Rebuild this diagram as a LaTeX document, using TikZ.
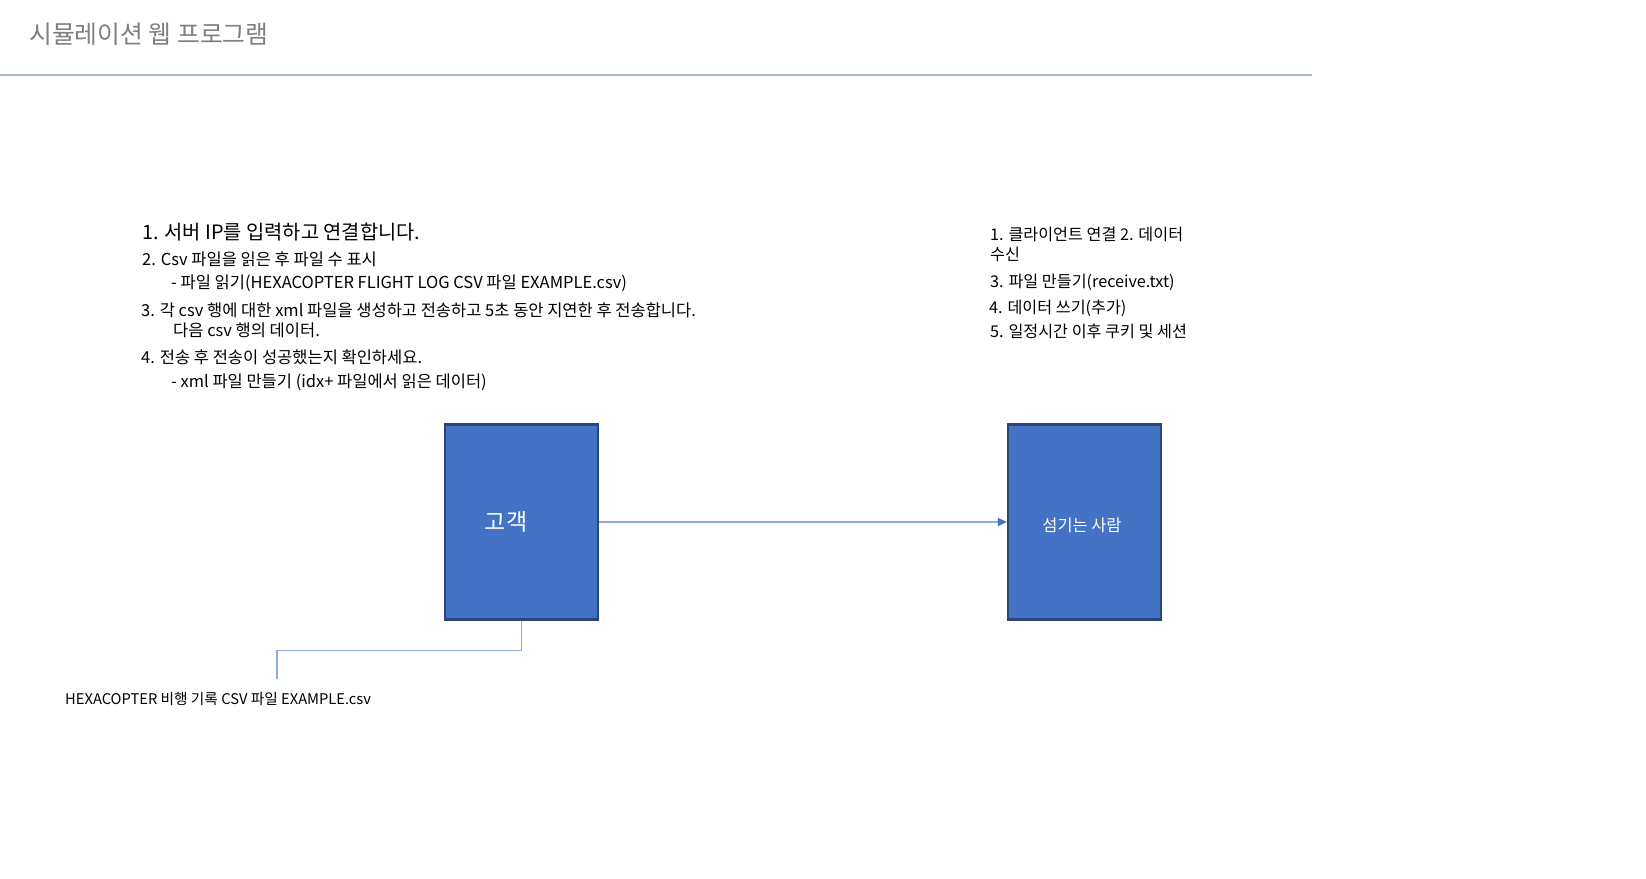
\documentclass[tikz,border=0pt]{standalone}
\usepackage{fontspec}
\setmainfont{Noto Sans CJK KR}
\usetikzlibrary{arrows.meta}
\definecolor{boxblue}{HTML}{4472C4}
\definecolor{boxedge}{HTML}{2A4577}
\definecolor{linkblue}{HTML}{8FAADC}
\definecolor{rulegray}{HTML}{A9B8C8}
\definecolor{titlegray}{HTML}{7F7F7F}
\tikzset{every node/.style={inner sep=0pt}}
\tikzset{t/.style={anchor=west,font=\fontsize{16.5}{18}\selectfont}}
\tikzset{b/.style={rectangle,draw=boxedge,line width=2.2pt,fill=boxblue,minimum width=153pt,minimum height=195pt}}
\tikzset{w/.style={text=white}}
\tikzset{a/.style={linkblue,line width=1.5pt,-{Triangle[length=9pt,width=8pt,color=boxblue]}}}
\tikzset{c/.style={linkblue,line width=1.5pt}}

\begin{document}
\begin{tikzpicture}[x=1pt,y=-1pt]
  \useasboundingbox[fill=white] (0,0) rectangle (1646,878);
  % title and rule
  \node[anchor=west,text=titlegray,font=\fontsize{24.8}{26}\selectfont] (title) at (29,34) {시뮬레이션 웹 프로그램};
  \coordinate (rl) at (0,75);
  \coordinate (rr) at (1312,75);
  \draw[rulegray,line width=2pt] (rl) -- (rr);
  % client steps
  \node[t,font=\fontsize{19.8}{21}\selectfont] (L1) at (142,232) {1. 서버 IP를 입력하고 연결합니다.};
  \node[t] (L2) at (142,259) {2. Csv 파일을 읽은 후 파일 수 표시};
  \node[t] (L3) at (171,283) {- 파일 읽기(HEXACOPTER FLIGHT LOG CSV 파일 EXAMPLE.csv)};
  \node[t] (L4) at (141,310) {3. 각 csv 행에 대한 xml 파일을 생성하고 전송하고 5초 동안 지연한 후 전송합니다.};
  \node[t] (L5) at (173,330) {다음 csv 행의 데이터.};
  \node[t] (L6) at (141,357) {4. 전송 후 전송이 성공했는지 확인하세요.};
  \node[t] (L7) at (171,382) {- xml 파일 만들기 (idx+ 파일에서 읽은 데이터)};
  % server steps
  \node[t,font=\fontsize{16.2}{18}\selectfont] (R1) at (990,234) {1. 클라이언트 연결 2. 데이터};
  \node[t,font=\fontsize{16.2}{18}\selectfont] (R2) at (990,254) {수신};
  \node[t,font=\fontsize{16.2}{18}\selectfont] (R3) at (990,282) {3. 파일 만들기(receive.txt)};
  \node[t,font=\fontsize{16.2}{18}\selectfont] (R4) at (989,308) {4. 데이터 쓰기(추가)};
  \node[t,font=\fontsize{16.2}{18}\selectfont] (R5) at (990,331) {5. 일정시간 이후 쿠키 및 세션};
  % boxes
  \node[b] (K) at (521.5,522) {};
  \node[b] (S) at (1084.5,522) {};
  \node[w,font=\fontsize{23}{25}\selectfont] (Kt) at (506,522) {고객};
  \node[w,font=\fontsize{16.4}{18}\selectfont] (St) at (1082,525) {섬기는 사람};
  \draw[a] (K) -- (S);
  % csv file
  \node[t,font=\fontsize{14.7}{17}\selectfont] (F) at (65,699) {HEXACOPTER 비행 기록 CSV 파일 EXAMPLE.csv};
  \coordinate (Fe) at (277,679);
  \draw[c] (K.south) -- ++(0,30) -| (Fe);
\end{tikzpicture}
\end{document}
